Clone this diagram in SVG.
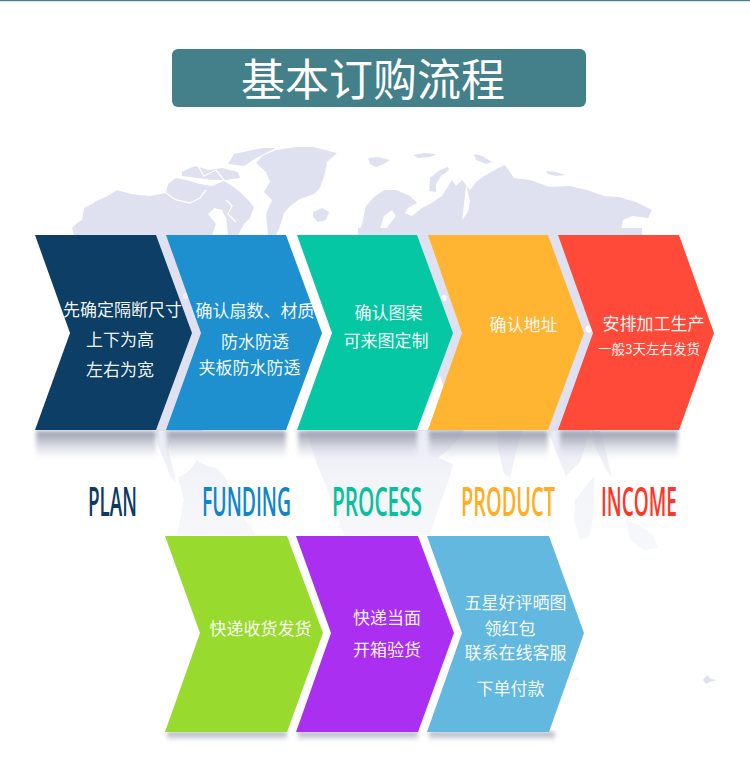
<svg xmlns="http://www.w3.org/2000/svg" width="750" height="775" viewBox="0 0 750 775">
<style>
.land{fill:#dfe1f1}
.land2{fill:url(#fade)}
.cut{fill:none;stroke:#fff;stroke-width:1.3}
.zh{font-family:"Noto Sans CJK SC","Noto Sans",sans-serif;font-size:17px;font-weight:400;fill:#fff;fill-opacity:.96}
.title{font-family:"Noto Sans CJK SC","Noto Sans",sans-serif;font-size:44px;font-weight:400;fill:#fff}
.en{font-family:"Open Sans","Liberation Sans",sans-serif;font-size:40px;font-weight:600}
.shadow{fill:url(#sh);filter:url(#bl)}
</style>
<defs>
<linearGradient id="sh" x1="0" y1="0" x2="0" y2="1">
<stop offset="0" stop-color="#8f95a8" stop-opacity=".95"/>
<stop offset=".3" stop-color="#a8acba" stop-opacity=".75"/>
<stop offset=".65" stop-color="#cfd1dc" stop-opacity=".5"/>
<stop offset="1" stop-color="#e6e7ee" stop-opacity="0"/>
</linearGradient>
<linearGradient id="fade" gradientUnits="userSpaceOnUse" x1="0" y1="431" x2="0" y2="550">
<stop offset="0" stop-color="#e9ebf5"/>
<stop offset=".4" stop-color="#f3f4f9"/>
<stop offset="1" stop-color="#f7f8fb"/>
</linearGradient>
<filter id="bl" x="-10%" y="-20%" width="120%" height="140%"><feGaussianBlur stdDeviation="2"/></filter>
</defs>
<rect width="750" height="775" fill="#fff"/>
<rect width="750" height="1.2" fill="#44808a"/>

<g id="map">
<polygon class="land" points="74,235 72,228 76,224 82,220 84,208 92,204 96,201 106,197 117,190 131,194 150,196 166,193 168,184 176,178 186,180 200,184 212,186 224,181 232,186 240,192 248,200 254,207 250,218 244,224 238,235"/>
<polyline class="cut" points="166,193 176,200 190,203 200,198 206,190"/>
<polygon fill="#fff" points="208,214 214,208 222,210 226,218 228,235 212,235 216,224"/>
<polyline class="cut" points="226,200 232,206 228,214 236,222"/>
<rect class="land" x="156" y="234" width="46" height="197"/>
<circle cx="186" cy="296" r="3" fill="#eef0f8"/>
<polygon class="land" points="182,176 182,172 190,168 196,166 208,170 222,168 238,172 240,178 226,180 212,180 198,178"/>
<polyline class="cut" points="198,166 204,176 216,170 224,180"/>
<polygon class="land" points="228,164 234,154 248,151 262,148 276,148 256,158 244,166"/>
<polygon class="land" points="256,163 262,156 276,150 296,147 313,147 337,153 327,162 325,173 320,188 314,194 300,199 290,206 284,213 280,226 276,235 268,235 266,214 272,200 264,192 270,182 266,172"/>
<polygon class="land" points="313,212 322,208 329,212 326,220 318,222 313,217"/>
<polygon class="land" points="358,235 362,224 366,206 374,197 384,190 396,190 410,196 417,203 408,208 405,213 412,216 422,208 430,204 442,196 452,180 456,186 462,180 470,190 476,182 484,176 498,168 505,165 510,172 514,178 530,180 550,187 570,186 587,190 604,196 619,197 636,202 652,210 648,218 632,216 623,220 620,235"/>
<polygon fill="#fff" points="378,235 384,216 392,210 396,216 388,226 386,235"/>
<polygon fill="#fff" points="466,185 470,200 468,212 462,220 464,204"/>
<polygon class="land" points="429,191 430,178 440,170 448,167 449,170 441,176 436,184 436,192"/>
<polygon class="land" points="368,158 378,157 390,160 384,164 376,167 370,164"/>
<polygon class="land" points="413,155 424,153 437,154 430,157 418,158"/>
<polygon class="land" points="474,154 482,156 492,162 486,164 476,160"/>
<polygon class="land" points="546,171 556,172 566,175 556,176 548,174"/>
<rect class="land" x="358" y="228" width="284" height="8"/>
<rect class="land" x="417" y="234" width="46" height="197"/>
<rect class="land" x="548" y="234" width="46" height="197"/>
<circle cx="444" cy="298" r="3" fill="#fff"/>
<circle cx="589" cy="329" r="3.5" fill="#fff"/>
<polygon fill="#fff" points="412,430 428,430 444,388 440,376"/>
<polygon class="land2" points="156,431 168,431 171,442 168,450 172,464 176,482 170,476 164,460 158,446"/>
<polygon class="land2" points="178,478 190,470 197,460 206,466 216,468 224,476 236,500 246,520 256,535 177,535 184,500"/>
<polygon class="land2" points="307,431 440,431 465,431 450,448 438,458 453,464 448,482 438,510 430,535 344,535 334,510 326,486 316,462"/>
<polygon class="land2" points="497,431 522,431 516,452 510,478 504,474 499,452"/>
<polygon class="land2" points="548,431 590,431 580,462 566,476 556,452"/>
<polygon class="land2" points="592,431 600,431 606,452 612,478 606,470 596,448"/>
<polygon class="land2" points="575,500 586,486 594,476 594,510 590,536 580,540 574,520"/>
<polygon class="land2" points="626,520 640,526 652,534 658,548 644,550 630,540"/>
<polygon class="land" points="703,680 707,675 711,679 717,680 710,682 706,684"/>
<polygon class="land2" points="572,680 577,677 580,680 575,681"/>
</g>

<g id="shadows">
<rect class="shadow" x="36" y="431" width="120" height="29"/>
<rect class="shadow" x="167" y="431" width="119" height="29"/>
<rect class="shadow" x="298" y="431" width="119" height="29"/>
<rect class="shadow" x="429" y="431" width="119" height="29"/>
<rect class="shadow" x="560" y="431" width="118" height="29"/>
<rect class="shadow" x="167" y="732" width="120" height="10"/>
<rect class="shadow" x="298" y="732" width="120" height="10"/>
<rect class="shadow" x="429" y="732" width="126" height="10"/>
</g>

<g id="title">
<rect x="172" y="49" width="414" height="58" rx="6" fill="#44808a"/>
<text class="title" x="241" y="96">基本订购流程</text>
</g>

<g id="node-plan">
<polygon fill="#0d3f66" points="35,235 156,235 192,333 156,430 35,430 70,333"/>
<text class="zh" x="63" y="316">先确定隔断尺寸</text>
<text class="zh" x="86" y="346">上下为高</text>
<text class="zh" x="86" y="376">左右为宽</text>
</g>
<g id="node-funding">
<polygon fill="#1e90d0" points="166,235 286,235 322,333 286,430 166,430 201,333"/>
<text class="zh" x="195.500" y="317">确认扇数、材质</text>
<text class="zh" x="221" y="348">防水防透</text>
<text class="zh" x="198.500" y="374">夹板防水防透</text>
</g>
<g id="node-process">
<polygon fill="#06c7a4" points="297,235 417,235 453,333 417,430 297,430 332,333"/>
<text class="zh" x="354.500" y="319">确认图案</text>
<text class="zh" x="343.500" y="347">可来图定制</text>
</g>
<g id="node-product">
<polygon fill="#ffb432" points="428,235 548,235 584,333 548,430 428,430 462,333"/>
<text class="zh" x="489.500" y="331">确认地址</text>
</g>
<g id="node-income">
<polygon fill="#ff4a3a" points="558,235 679,235 714,333 679,430 558,430 593,333"/>
<text class="zh" x="602.500" y="330">安排加工生产</text>
<text class="zh" x="598" y="354" style="font-size:13.500px">一般3天左右发货</text>
</g>

<g id="labels">
<text class="en" transform="translate(88 516) scale(.46 1)" fill="#0c3a63" textLength="106.500" lengthAdjust="spacingAndGlyphs">PLAN</text>
<text class="en" transform="translate(202 516) scale(.46 1)" fill="#0f86cc" textLength="193.500" lengthAdjust="spacingAndGlyphs">FUNDING</text>
<text class="en" transform="translate(332 516) scale(.46 1)" fill="#08c09c" textLength="195.700" lengthAdjust="spacingAndGlyphs">PROCESS</text>
<text class="en" transform="translate(461 516) scale(.46 1)" fill="#ffad22" textLength="204.300" lengthAdjust="spacingAndGlyphs">PRODUCT</text>
<text class="en" transform="translate(601 516) scale(.46 1)" fill="#ff3526" textLength="165.200" lengthAdjust="spacingAndGlyphs">INCOME</text>
</g>

<g id="node-receive">
<polygon fill="#98da2e" points="165,536 287,536 323,633 287,732 165,732 200,633"/>
<text class="zh" x="209.500" y="635">快递收货发货</text>
</g>
<g id="node-inspect">
<polygon fill="#aa2ff0" points="296,536 418,536 454,633 418,732 296,732 331,633"/>
<text class="zh" x="353" y="624">快递当面</text>
<text class="zh" x="353" y="656">开箱验货</text>
</g>
<g id="node-review">
<polygon fill="#62b8de" points="427,536 549,536 584,633 549,732 427,732 462,633"/>
<text class="zh" x="464.500" y="609">五星好评晒图</text>
<text class="zh" x="484.500" y="635">领红包</text>
<text class="zh" x="464.500" y="659">联系在线客服</text>
<text class="zh" x="476.500" y="695">下单付款</text>
</g>
</svg>
